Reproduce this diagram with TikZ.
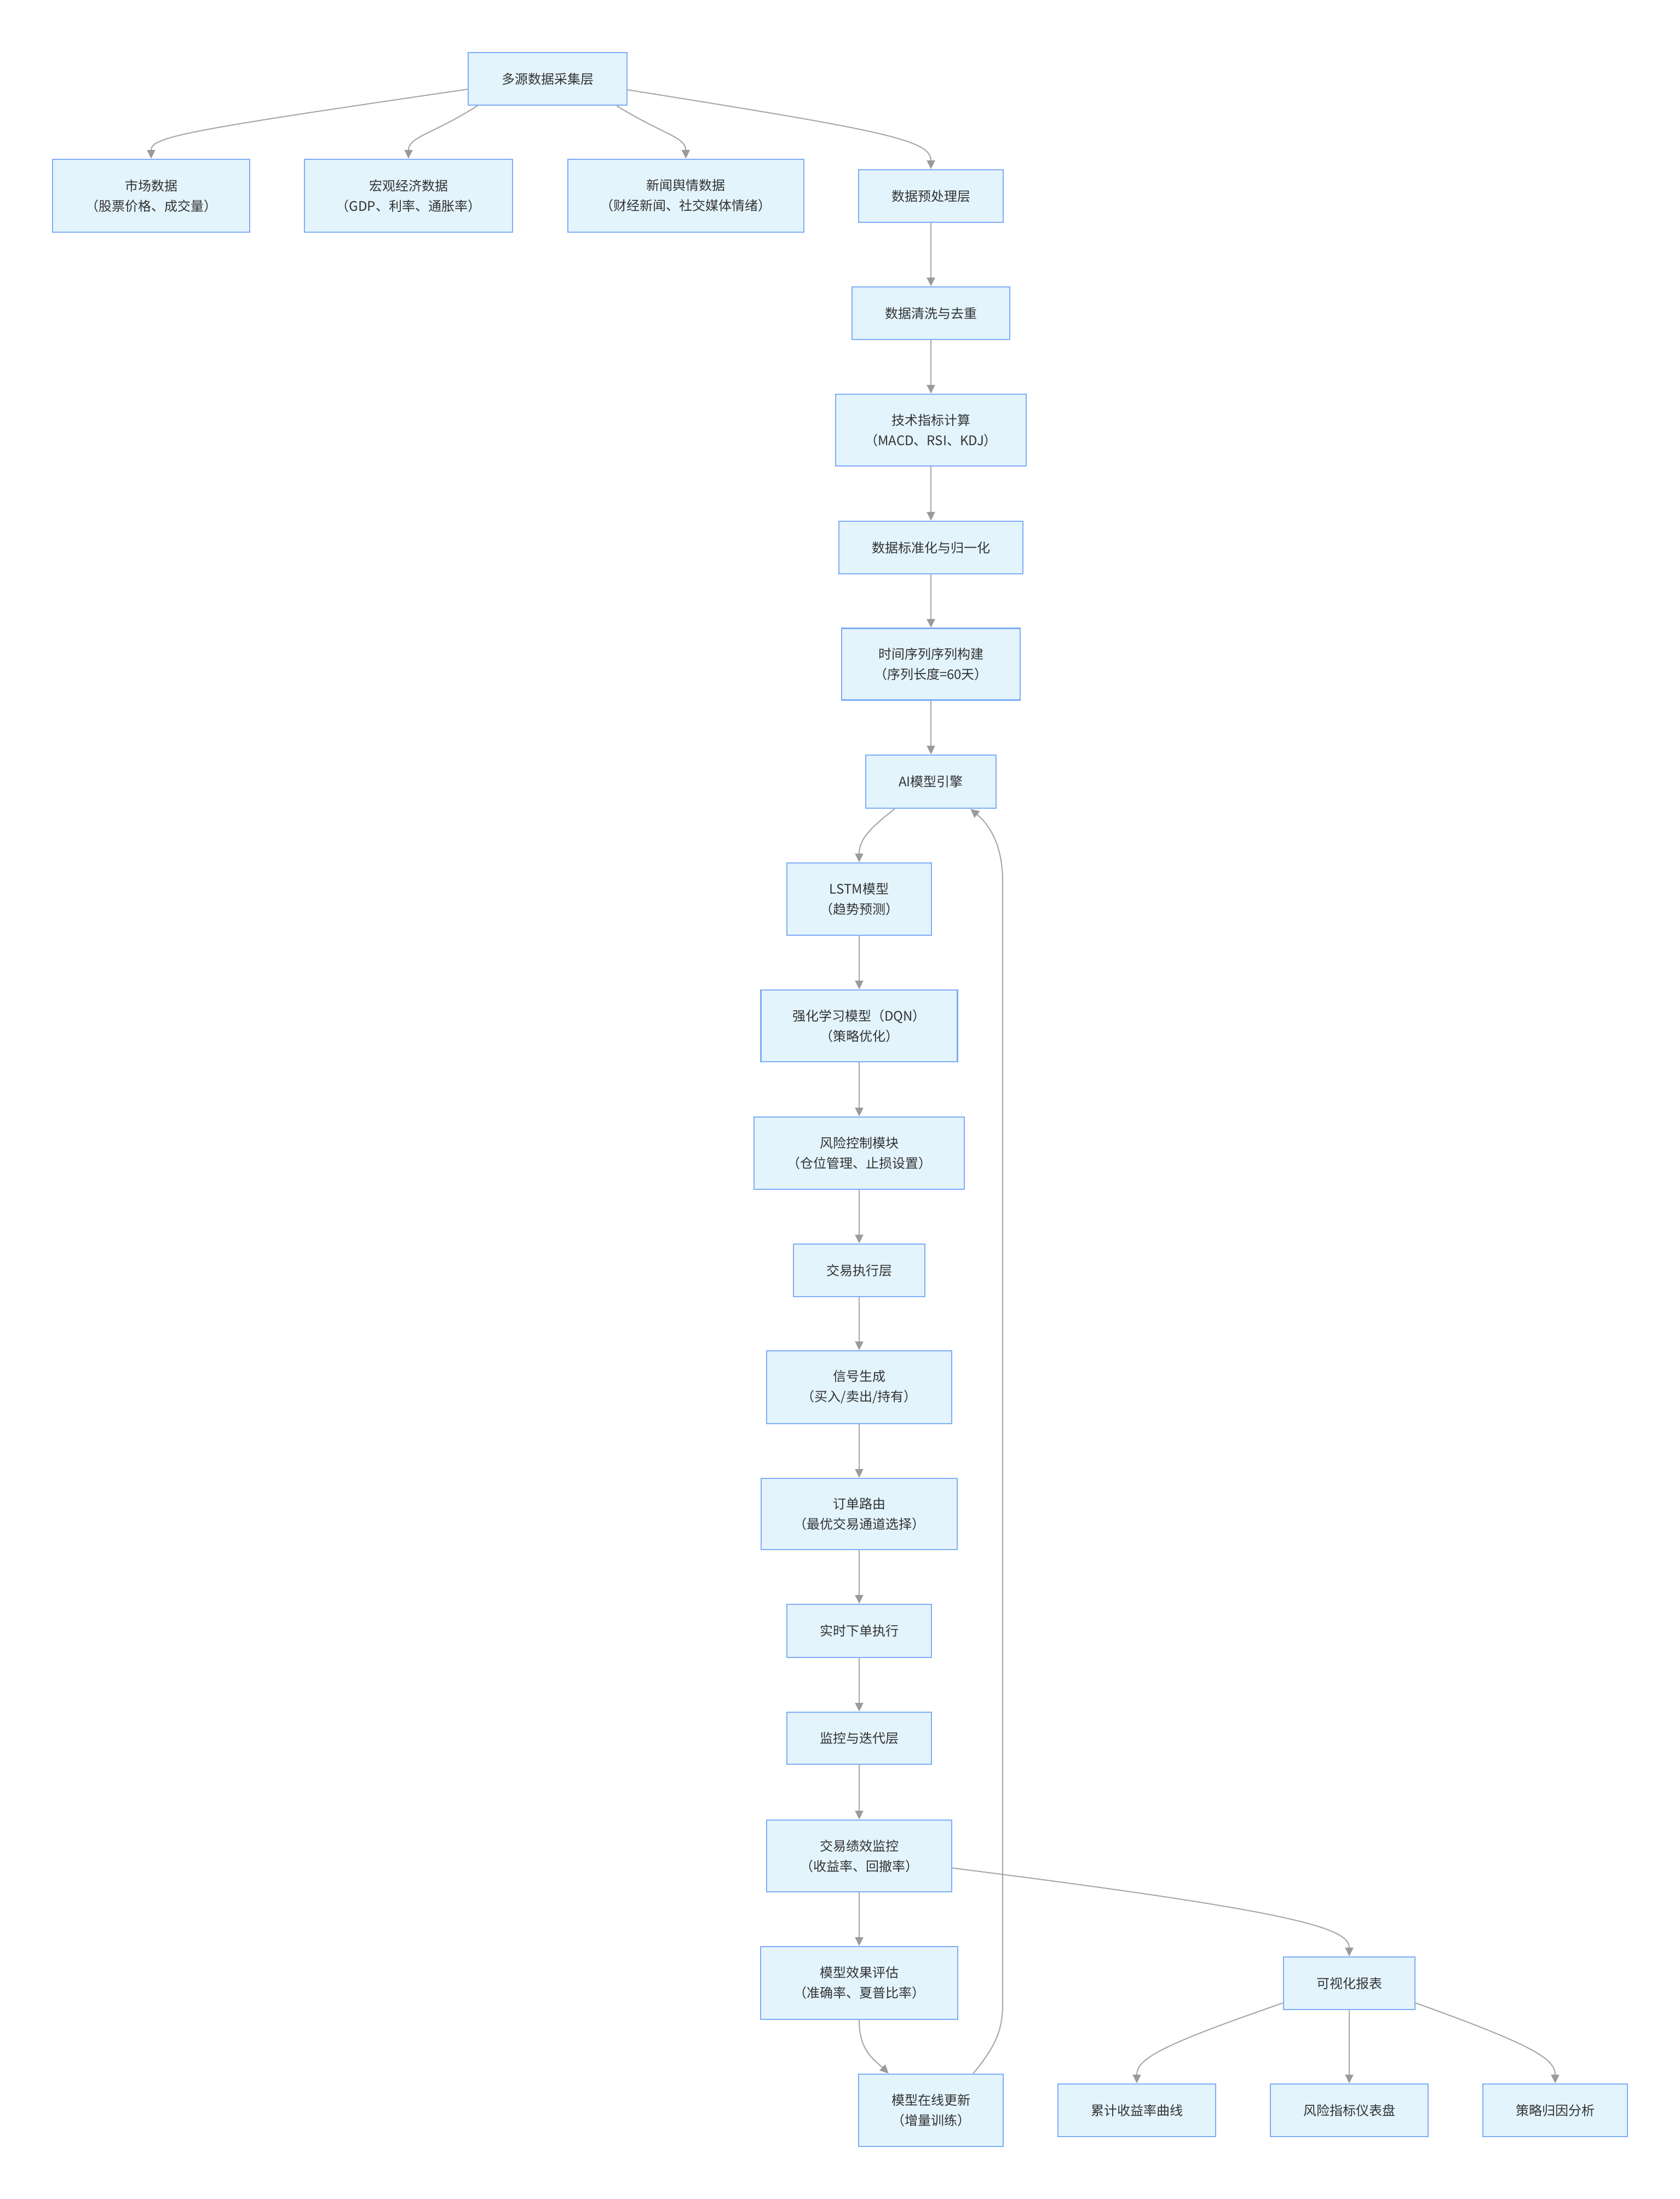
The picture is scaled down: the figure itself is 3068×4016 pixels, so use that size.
\documentclass[tikz,border=0pt]{standalone}
\usepackage{fontspec}
\setmainfont{Noto Sans CJK SC}
\usetikzlibrary{arrows.meta,calc}
\definecolor{nodefill}{HTML}{E3F4FD}
\definecolor{nodedraw}{HTML}{7EACF8}
\definecolor{edgecol}{HTML}{A6A6A6}
\definecolor{tipcol}{HTML}{9A9A9A}
\definecolor{txt}{HTML}{333333}
\begin{document}
\begin{tikzpicture}[x=1pt,y=-1pt,
  box/.style={draw=nodedraw, fill=nodefill, line width=2.5pt, text=txt,
    font=\fontsize{24}{37}\selectfont, align=center, inner sep=0pt},
  conn/.style={draw=edgecol, line width=2pt,
    -{Triangle[length=16pt,width=15pt,color=tipcol]}}
]
\useasboundingbox (0,0) rectangle (3068,4016);
\fill[white] (0,0) rectangle (3068,4016);

% top layer
\node[box, minimum width=290pt, minimum height=96pt] (src) at (1000,144) {多源数据采集层};
\node[box, minimum width=360pt, minimum height=133pt] (mkt) at (276,357.5) {市场数据\\（股票价格、成交量）};
\node[box, minimum width=380pt, minimum height=133pt] (mac) at (746,357.5) {宏观经济数据\\（GDP、利率、通胀率）};
\node[box, minimum width=431pt, minimum height=133pt] (news) at (1252.5,357.5) {新闻舆情数据\\（财经新闻、社交媒体情绪）};

% preprocessing column
\node[box, minimum width=264pt, minimum height=96pt] (pre) at (1700,358) {数据预处理层};
\node[box, minimum width=288pt, minimum height=96pt] (clean) at (1700,572) {数据清洗与去重};
\node[box, minimum width=348pt, minimum height=131pt] (tech) at (1700,785.5) {技术指标计算\\（MACD、RSI、KDJ）};
\node[box, minimum width=336pt, minimum height=96pt] (norm) at (1700,1000) {数据标准化与归一化};
\node[box, minimum width=326pt, minimum height=131pt] (ts) at (1700,1213) {时间序列序列构建\\（序列长度=60天）};
\node[box, minimum width=238pt, minimum height=97pt] (ai) at (1700,1427.5) {AI模型引擎};

% model / execution column
\node[box, minimum width=264pt, minimum height=132pt] (lstm) at (1569,1642) {LSTM模型\\（趋势预测）};
\node[box, minimum width=359pt, minimum height=131pt] (dqn) at (1569,1873.5) {强化学习模型（DQN）\\（策略优化）};
\node[box, minimum width=384pt, minimum height=132pt] (risk) at (1569,2106) {风险控制模块\\（仓位管理、止损设置）};
\node[box, minimum width=240pt, minimum height=96pt] (exec) at (1569,2320) {交易执行层};
\node[box, minimum width=338pt, minimum height=133pt] (sig) at (1569,2533.5) {信号生成\\（买入/卖出/持有）};
\node[box, minimum width=358pt, minimum height=130pt] (route) at (1569,2765) {订单路由\\（最优交易通道选择）};
\node[box, minimum width=264pt, minimum height=97pt] (rt) at (1569,2978.5) {实时下单执行};
\node[box, minimum width=264pt, minimum height=95pt] (mon) at (1569,3174.5) {监控与迭代层};
\node[box, minimum width=338pt, minimum height=131pt] (perf) at (1569,3389.5) {交易绩效监控\\（收益率、回撤率）};
\node[box, minimum width=360pt, minimum height=133pt] (eval) at (1569,3621.5) {模型效果评估\\（准确率、夏普比率）};
\node[box, minimum width=264pt, minimum height=132pt] (upd) at (1700,3854) {模型在线更新\\（增量训练）};

% reporting
\node[box, minimum width=240pt, minimum height=96pt] (vis) at (2464,3622) {可视化报表};
\node[box, minimum width=288pt, minimum height=96pt] (cum) at (2076,3854) {累计收益率曲线};
\node[box, minimum width=288pt, minimum height=96pt] (rind) at (2464,3854) {风险指标仪表盘};
\node[box, minimum width=264pt, minimum height=96pt] (attr) at (2840,3854) {策略归因分析};

% connectors from source
\draw[conn] ($(src.west)+(0,19)$) .. controls (340,238) and (276,250) .. (mkt.north);
\draw[conn] ($(src.south west)+(18,0)$) .. controls (790,245) and (746,250) .. (mac.north);
\draw[conn] ($(src.south east)+(-20,0)$) .. controls (1210,245) and (1252,250) .. (news.north);
\draw[conn] ($(src.east)+(0,20)$) .. controls (1610,238) and (1700,255) .. (pre.north);

% straight chain
\draw[conn] (pre) -- (clean);
\draw[conn] (clean) -- (tech);
\draw[conn] (tech) -- (norm);
\draw[conn] (norm) -- (ts);
\draw[conn] (ts) -- (ai);
\draw[conn] ($(ai.south west)+(54,0)$) .. controls (1585,1515) and (1569,1535) .. (lstm.north);
\draw[conn] (lstm) -- (dqn);
\draw[conn] (dqn) -- (risk);
\draw[conn] (risk) -- (exec);
\draw[conn] (exec) -- (sig);
\draw[conn] (sig) -- (route);
\draw[conn] (route) -- (rt);
\draw[conn] (rt) -- (mon);
\draw[conn] (mon) -- (perf);
\draw[conn] (perf) -- (eval);
\draw[conn] (eval.south) .. controls (1569,3745) and (1595,3760) .. ($(upd.north west)+(56,0)$);

% feedback loop
\coordinate (loopb) at (1831,3660);
\coordinate (loopt) at (1831,1610);
\draw[conn] ($(upd.north east)+(-56,0)$) .. controls (1820,3735) and (1831,3705) .. (loopb)
  -- (loopt) .. controls (1831,1540) and (1805,1505) .. ($(ai.south east)+(-48,0)$);

% reporting branch
\draw[conn] ($(perf.east)+(0,22)$) .. controls (2360,3490) and (2464,3520) .. (vis.north);
\draw[conn] ($(vis.west)+(0,36)$) .. controls (2120,3735) and (2076,3760) .. (cum.north);
\draw[conn] (vis) -- (rind);
\draw[conn] ($(vis.east)+(0,36)$) .. controls (2800,3735) and (2840,3760) .. (attr.north);
\end{tikzpicture}
\end{document}
